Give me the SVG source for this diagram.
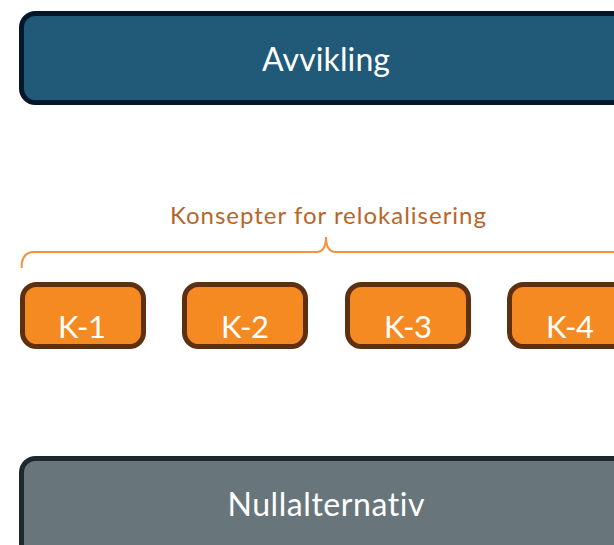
<svg xmlns="http://www.w3.org/2000/svg" width="614" height="545" viewBox="0 0 614 545">
  <style>
    .lbl { font-family: Lato, "Liberation Sans", Arial, sans-serif; fill: #ffffff; text-anchor: middle; font-variant-ligatures: none; }
    .k rect { fill: #F58A23; stroke: #5E300F; stroke-width: 5; }
    .k text { font-size: 31px; }
  </style>
  <rect width="614" height="545" fill="#ffffff"/>

  <g id="avvikling">
    <rect x="21.5" y="13.5" width="640" height="89" rx="14" fill="#215A78" stroke="#04162A" stroke-width="5"/>
    <text class="lbl" x="326" y="71" font-size="32" textLength="128">Avvikling</text>
  </g>

  <g id="konsepter">
    <text x="328" y="224" font-family="Lato, 'Liberation Sans', Arial, sans-serif" font-size="24" fill="#B8652A" text-anchor="middle" textLength="316" style="font-variant-ligatures: none">Konsepter for relokalisering</text>
  </g>

  <g id="connectors">
    <path d="M21.5 268 Q21.5 252 34 252 L316 252 Q326 252 326 237 Q326 252 336 252 L620 252" fill="none" stroke="#F5913A" stroke-width="2"/>
  </g>

  <g id="k1" class="k">
    <rect x="22.5" y="284.5" width="121" height="62" rx="14"/>
    <text class="lbl" x="82" y="338" textLength="48">K-1</text>
  </g>
  <g id="k2" class="k">
    <rect x="184.5" y="284.5" width="121" height="62" rx="14"/>
    <text class="lbl" x="245" y="338" textLength="48">K-2</text>
  </g>
  <g id="k3" class="k">
    <rect x="347.5" y="284.5" width="121" height="62" rx="14"/>
    <text class="lbl" x="408" y="338" textLength="48">K-3</text>
  </g>
  <g id="k4" class="k">
    <rect x="509.5" y="284.5" width="121" height="62" rx="14"/>
    <text class="lbl" x="570" y="338" textLength="48">K-4</text>
  </g>

  <g id="nullalternativ">
    <rect x="21.5" y="458.5" width="640" height="100" rx="14" fill="#68767C" stroke="#1E292D" stroke-width="5"/>
    <text class="lbl" x="326" y="516" font-size="32" textLength="197">Nullalternativ</text>
  </g>
</svg>
